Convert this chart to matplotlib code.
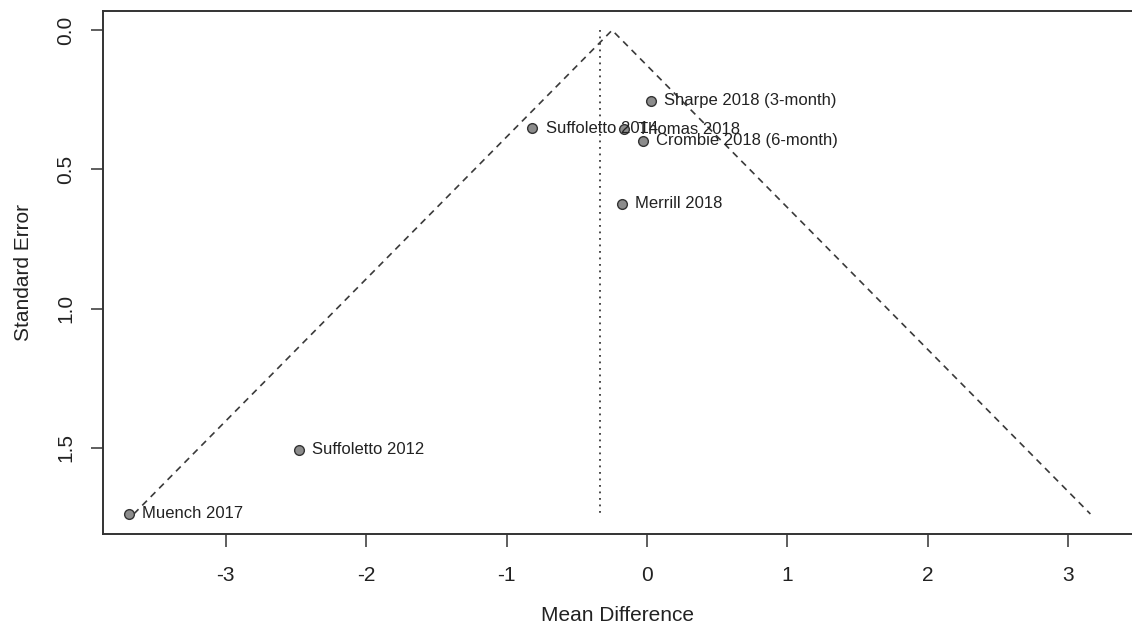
import matplotlib
matplotlib.use("Agg")
import matplotlib.pyplot as plt
import numpy as np

plt.rcParams['font.family'] = ['Liberation Sans', 'DejaVu Sans']

studies = ["Sharpe 2018 (3-month)", "Suffoletto 2014", "Thomas 2018",
           "Crombie 2018 (6-month)", "Merrill 2018", "Suffoletto 2012", "Muench 2017"]
mean_diff = [0.028, -0.817, -0.162, -0.031, -0.178, -2.479, -3.69]
std_err = [0.253, 0.352, 0.356, 0.398, 0.624, 1.508, 1.738]
pooled_fixed = -0.249     # funnel apex
pooled_random = -0.335    # dotted reference line
z = 1.96

fig = plt.figure(figsize=(11.32, 6.23), dpi=100)
ax = fig.add_axes([103/1132, 1-534/623, 1-103/1132, (534-11)/623])

se_max = max(std_err)
ax.plot([pooled_fixed - z*se_max, pooled_fixed, pooled_fixed + z*se_max],
        [se_max, 0, se_max], color='#3a3a3a', lw=1.2, dashes=(4, 3.2))
ax.plot([pooled_random, pooled_random], [0, se_max], color='#3a3a3a', lw=1.3,
        dashes=(1, 2.6))

ax.plot(mean_diff, std_err, 'o', ms=7, mfc='#8c8c8c', mec='#333333', mew=1.0,
        linestyle='none', zorder=3)
for name, x, y in zip(studies, mean_diff, std_err):
    ax.annotate(name, (x, y), xytext=(9.5, 0), textcoords='offset points',
                va='center', ha='left', fontsize=12, color='#222222')

ax.set_xlim(-3.875, 3.454)
ax.set_ylim(1.810, -0.069)
ax.set_xticks([-3, -2, -1, 0, 1, 2, 3])
ax.set_xticklabels(['-3', '-2', '-1', '0', '1', '2', '3'])
ax.set_yticks([0.0, 0.5, 1.0, 1.5])
ax.set_yticklabels(['0.0', '0.5', '1.0', '1.5'], rotation=90, va='center')
ax.tick_params(axis='both', length=9, width=1.1, color='#333333', labelsize=15,
               labelcolor='#222222')
ax.tick_params(axis='x', pad=14)
ax.tick_params(axis='y', pad=11)
for s in ['left', 'bottom', 'top']:
    ax.spines[s].set_color('#333333')
    ax.spines[s].set_linewidth(1.4)
ax.spines['right'].set_visible(False)

ax.set_xlabel('Mean Difference', fontsize=15, color='#222222', labelpad=15)
ax.set_ylabel('Standard Error', fontsize=15, color='#222222', labelpad=17)

fig.savefig('out.png', dpi=100)
